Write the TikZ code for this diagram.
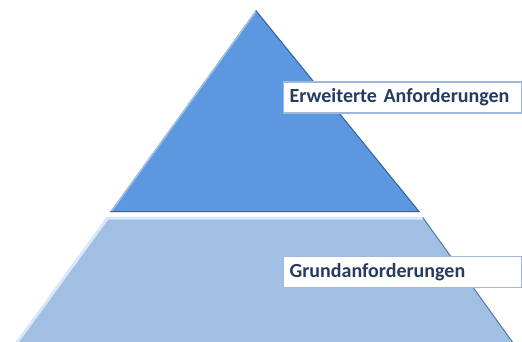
\documentclass[tikz,border=0pt]{standalone}
\usepackage{fontspec}
\setmainfont{Carlito}
\usepackage{tikz}
\definecolor{topblue}{RGB}{93,151,223}
\definecolor{lowblue}{RGB}{161,191,227}
\definecolor{tophigh}{RGB}{150,195,242}
\definecolor{lowhigh}{RGB}{215,232,252}
\definecolor{edgedark}{RGB}{55,75,105}
\definecolor{boxline}{RGB}{160,184,220}
\definecolor{labeltext}{RGB}{36,60,96}

\begin{document}
\begin{tikzpicture}[x=1pt,y=-1pt,
    label box/.style={draw=boxline,line width=1.2pt,fill=white,anchor=west,
      minimum width=238pt,minimum height=31pt,inner xsep=6pt,
      text width=226pt,align=left,text=labeltext,
      font=\fontsize{20}{24}\selectfont\bfseries}]
          \useasboundingbox (0,0) rectangle (522,342);
          \coordinate (apex) at (256,10);
          \coordinate (tl) at (110,212);
          \coordinate (tr) at (420,212);
          \coordinate (ll) at (107,217);
          \coordinate (lr) at (423,217);
          \coordinate (bl) at (16,342);
          \coordinate (br) at (513,342);
          % upper level
          \fill[topblue] (apex)--(tr)--(tl)--cycle;
          \begin{scope}
            \clip (apex)--(tr)--(tl)--cycle;
            \draw[tophigh,line width=3pt] (tl)--(apex);
            \draw[edgedark,line width=2pt,opacity=0.7] (apex)--(tr)--(tl);
          \end{scope}
          % lower level
          \fill[lowblue] (ll)--(lr)--(br)--(bl)--cycle;
          \begin{scope}
            \clip (ll)--(lr)--(br)--(bl)--cycle;
            \draw[lowhigh,line width=5pt] (bl)--(ll)--(lr);
            \draw[edgedark,line width=2pt,opacity=0.6] (lr)--(br);
          \end{scope}
          \node[label box] (erw) at (283,97.5) {Erweiterte Anforderungen};
          \node[label box] (grund) at (283,272) {Grundanforderungen};
        \end{tikzpicture}
\end{document}
